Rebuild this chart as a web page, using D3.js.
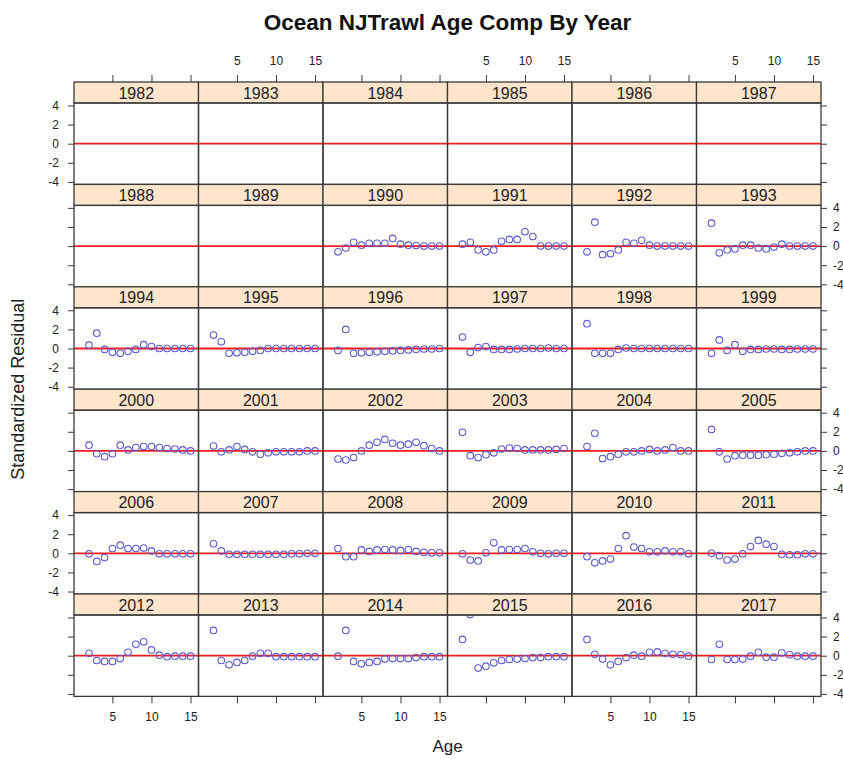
<!DOCTYPE html>
<html><head><meta charset="utf-8">
<script src="https://cdn.jsdelivr.net/npm/d3@7"></script>
<style>
html,body{margin:0;padding:0;background:#fff;}
svg{display:block;font-family:"Liberation Sans",Arial,sans-serif;}
</style></head>
<body><svg id="c" width="843" height="759"></svg>
<script>
// ---- data ----
const years = d3.range(1982, 2018);
const ages = [2,3,4,5,6,7,8,9,10,11,12,13,14,15];
const xTicks = [5, 10, 15];
const yTicks = [-4, -2, 0, 2, 4];
const r1990 = [-0.6,-0.2,0.4,0.1,0.3,0.3,0.3,0.8,0.2,0.1,0.05,0,0,0];
const r1991 = [0.2,0.4,-0.4,-0.6,-0.4,0.5,0.7,0.7,1.5,1.0,0,0,0,0];
const r1992 = [-0.6,2.5,-0.9,-0.8,-0.4,0.4,0.3,0.6,0.1,0,0,0,0,0];
const r1993 = [2.4,-0.7,-0.4,-0.3,0.1,0.1,-0.2,-0.3,-0.1,0.2,0,0,0,0];
const r1994 = [0.35,1.6,-0.1,-0.4,-0.5,-0.3,-0.1,0.4,0.2,0,0,0,0,0];
const r1995 = [1.4,0.7,-0.5,-0.45,-0.4,-0.3,-0.2,0,0,0,0,0,0,0];
const r1996 = [-0.2,2.0,-0.5,-0.45,-0.4,-0.35,-0.3,-0.25,-0.2,-0.15,-0.1,-0.05,-0.05,0];
const r1997 = [1.2,-0.4,0.1,0.2,-0.1,-0.1,-0.1,-0.05,0,0,0,0.05,0,0];
const r1998 = [2.6,-0.5,-0.5,-0.5,-0.1,0.05,0,0,0,0,0,0,0,0];
const r1999 = [-0.5,0.9,-0.2,0.4,-0.3,-0.1,-0.1,-0.05,-0.05,-0.1,-0.1,-0.05,-0.05,-0.05];
const r2000 = [0.6,-0.3,-0.6,-0.3,0.6,0.1,0.35,0.45,0.45,0.35,0.25,0.2,0.1,0];
const r2001 = [0.5,-0.1,0.1,0.45,0.15,-0.1,-0.35,-0.2,-0.1,-0.1,-0.1,-0.1,0,0];
const r2002 = [-0.85,-0.95,-0.7,0,0.6,0.9,1.2,0.8,0.6,0.7,0.9,0.55,0.25,0];
const r2003 = [1.95,-0.5,-0.7,-0.4,-0.2,0.2,0.3,0.25,0.1,0.1,0.1,0.1,0.15,0.25];
const r2004 = [0.45,1.85,-0.8,-0.6,-0.35,-0.1,-0.1,0,0.15,0,0.1,0.35,0,0];
const r2005 = [2.25,-0.1,-0.85,-0.5,-0.45,-0.45,-0.45,-0.4,-0.35,-0.25,-0.2,-0.1,0,0];
const r2006 = [-0.05,-0.85,-0.45,0.5,0.85,0.5,0.5,0.55,0.25,-0.05,-0.05,-0.05,-0.05,-0.05];
const r2007 = [1.0,0.25,-0.1,-0.1,-0.1,-0.1,-0.1,-0.1,-0.1,-0.1,-0.05,-0.05,0,0];
const r2008 = [0.5,-0.35,-0.35,0.35,0.2,0.35,0.4,0.35,0.3,0.4,0.2,0.1,0.05,0.05];
const r2009 = [-0.05,-0.7,-0.8,0.05,1.1,0.35,0.4,0.4,0.5,0.15,0,-0.05,0,0];
const r2010 = [-0.35,-1.0,-0.8,-0.6,0.5,1.85,0.65,0.5,0.15,0.15,0.25,0.15,0.15,-0.05];
const r2011 = [0,-0.25,-0.7,-0.6,-0.05,0.7,1.35,0.95,0.7,-0.1,-0.15,-0.15,-0.05,-0.05];
const r2012 = [0.25,-0.5,-0.6,-0.6,-0.3,0.35,1.2,1.45,0.6,0.05,-0.1,-0.05,-0.05,-0.05];
const r2013 = [2.65,-0.5,-0.95,-0.7,-0.5,-0.05,0.25,0.25,-0.1,-0.1,-0.1,-0.1,-0.1,-0.1];
const r2014 = [-0.05,2.65,-0.6,-0.85,-0.7,-0.6,-0.35,-0.3,-0.3,-0.3,-0.2,-0.1,-0.1,-0.1];
const r2015 = [1.7,4.3,-1.3,-1.1,-0.75,-0.5,-0.4,-0.35,-0.3,-0.2,-0.2,-0.1,-0.1,-0.1];
const r2016 = [1.7,0.15,-0.35,-0.95,-0.6,-0.2,0.05,-0.05,0.35,0.4,0.25,0.15,0.1,-0.05];
const r2017 = [-0.4,1.2,-0.4,-0.4,-0.35,-0.05,0.35,-0.15,-0.15,0.3,0.1,-0.05,-0.05,-0.05];

const residualsByYear = new Map([
  [1990,r1990],[1991,r1991],[1992,r1992],[1993,r1993],[1994,r1994],[1995,r1995],
  [1996,r1996],[1997,r1997],[1998,r1998],[1999,r1999],[2000,r2000],[2001,r2001],
  [2002,r2002],[2003,r2003],[2004,r2004],[2005,r2005],[2006,r2006],[2007,r2007],
  [2008,r2008],[2009,r2009],[2010,r2010],[2011,r2011],[2012,r2012],[2013,r2013],
  [2014,r2014],[2015,r2015],[2016,r2016],[2017,r2017]
]);

// ---- layout ----
const svg = d3.select("#c");
const nCol = 6, nRow = 6;
const leftX = 74, topY = 82;
const panelW = 124.5, rowH = 102.4, stripH = 21, panelH = rowH - stripH;
const gridW = panelW * nCol, gridH = rowH * nRow;

const x = d3.scaleLinear().domain([0.08, 16.02]).range([0, panelW]);
const y = d3.scaleLinear().domain([-4.26, 4.26]).range([panelH, 0]);

const borderCol = "#3a3a3a";
const textCol = "#222";
const fmt = d => String(d);

// title
svg.append("text").attr("x", leftX + gridW/2).attr("y", 30)
  .attr("text-anchor","middle").attr("font-weight","bold").attr("font-size",22.5)
  .attr("fill","#111").text("Ocean NJTrawl Age Comp By Year");

const defs = svg.append("defs");

years.forEach((yr, i) => {
  const c = i % nCol, r = Math.floor(i / nCol);
  const gx = leftX + c * panelW, gy = topY + r * rowH;
  const g = svg.append("g").attr("transform", `translate(${gx},${gy})`);
  // strip
  g.append("rect").attr("width", panelW).attr("height", stripH)
    .attr("fill","#ffe5cc").attr("stroke", borderCol).attr("stroke-width",1.3);
  g.append("text").attr("x", panelW/2).attr("y", stripH/2 + 6)
    .attr("text-anchor","middle").attr("font-size",16).attr("fill", textCol).text(yr);
  // panel
  const p = g.append("g").attr("transform", `translate(0,${stripH})`);
  const cid = "clip" + yr;
  defs.append("clipPath").attr("id", cid).append("rect")
    .attr("width", panelW).attr("height", panelH);
  const pc = p.append("g").attr("clip-path", `url(#${cid})`);
  pc.append("line").attr("x1",0).attr("x2",panelW)
    .attr("y1", y(0)).attr("y2", y(0))
    .attr("stroke","#f01c1c").attr("stroke-width",1.8);
  const vals = residualsByYear.get(yr);
  if (vals) {
    pc.selectAll("circle").data(ages.map((a, k) => [a, vals[k]])).join("circle")
      .attr("cx", d => x(d[0])).attr("cy", d => y(d[1])).attr("r", 3.3)
      .attr("fill","none").attr("stroke","#5c5ccf").attr("stroke-width",1.1);
  }
  p.append("rect").attr("width", panelW).attr("height", panelH)
    .attr("fill","none").attr("stroke", borderCol).attr("stroke-width",1.3);

  const axStyle = sel => {
    sel.select(".domain").remove();
    sel.selectAll(".tick line").attr("stroke", borderCol).attr("stroke-width",1);
    sel.selectAll(".tick text").attr("fill", textCol).attr("font-size",12)
      .attr("font-family","Liberation Sans, Arial, sans-serif");
  };
  if (r === 0) {
    const ax = d3.axisTop(x).tickValues(xTicks).tickSize(7).tickPadding(10)
      .tickFormat(c % 2 === 1 ? fmt : () => "");
    g.append("g").call(ax).call(axStyle);
  }
  if (r === nRow - 1) {
    const ax = d3.axisBottom(x).tickValues(xTicks).tickSize(7).tickPadding(9)
      .tickFormat(c % 2 === 0 ? fmt : () => "");
    p.append("g").attr("transform", `translate(0,${panelH})`).call(ax).call(axStyle);
  }
  if (c === 0) {
    const ax = d3.axisLeft(y).tickValues(yTicks).tickSize(6).tickPadding(9)
      .tickFormat(r % 2 === 0 ? fmt : () => "");
    p.append("g").call(ax).call(axStyle);
  }
  if (c === nCol - 1) {
    const ax = d3.axisRight(y).tickValues(yTicks).tickSize(6).tickPadding(6)
      .tickFormat(r % 2 === 1 ? fmt : () => "");
    p.append("g").attr("transform", `translate(${panelW},0)`).call(ax).call(axStyle);
  }
});

// axis titles
svg.append("text").attr("x", leftX + gridW/2).attr("y", 752)
  .attr("text-anchor","middle").attr("font-size",17).attr("fill", textCol).text("Age");
svg.append("text").attr("transform", `translate(24,${topY + gridH/2}) rotate(-90)`)
  .attr("text-anchor","middle").attr("font-size",18).attr("fill", textCol)
  .text("Standardized Residual");
</script></body></html>
